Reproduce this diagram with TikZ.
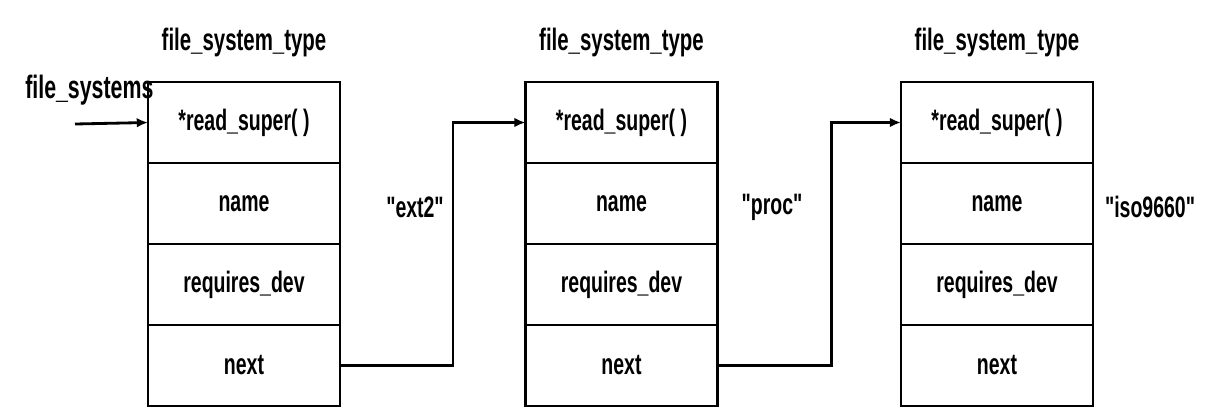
\documentclass[tikz,border=0pt]{standalone}
\usepackage{fontspec}
\newfontfamily\narrowsans[FakeStretch=0.66]{Liberation Sans}
\usetikzlibrary{arrows.meta}
\tikzset{
  field/.style={draw, line width=2pt, outer sep=0pt, minimum width=192*0.025cm, minimum height=81*0.025cm,
                inner sep=0pt, font=\narrowsans\bfseries\fontsize{21}{23}\selectfont},
  label text/.style={font=\narrowsans\bfseries\fontsize{21}{23}\selectfont, inner sep=0pt},
  link/.style={line width=2pt, -{Latex[length=0.28cm,width=0.24cm]}},
}
\begin{document}
\begin{tikzpicture}[x=0.025cm,y=-0.025cm]
\useasboundingbox (0,0) rectangle (1220,409);

% three file_system_type records
\foreach \i/\cx in {1/244, 2/621.5, 3/997} {
  \node[field] (r\i) at (\cx,122.5) {*read\_super( )};
  \node[field, anchor=north] (m\i) at (r\i.south) {name};
  \node[field, anchor=north] (d\i) at (m\i.south) {requires\_dev};
  \node[field, anchor=north] (n\i) at (d\i.south) {next};
  \node[label text, font=\narrowsans\bfseries\fontsize{22}{24}\selectfont] (t\i) at (\cx,42) {file\_system\_type};
}

% name strings
\node[label text] (s1) at (415,207) {"ext2"};
\node[label text] (s2) at (772,207) {"proc"};
\node[label text] (s3) at (1150,207) {"iso9660"};

% list head
\node[label text, anchor=west, font=\narrowsans\bfseries\fontsize{23}{25}\selectfont] (head) at (25,90) {file\_systems};
\coordinate (headtail) at (75,124);
\draw[link] (headtail) -- (r1.west);

% next pointers
\draw[link] (n1.east) -- ++(113,0) |- (r2.west);
\draw[link] (n2.east) -- ++(114,0) |- (r3.west);
\end{tikzpicture}
\end{document}
